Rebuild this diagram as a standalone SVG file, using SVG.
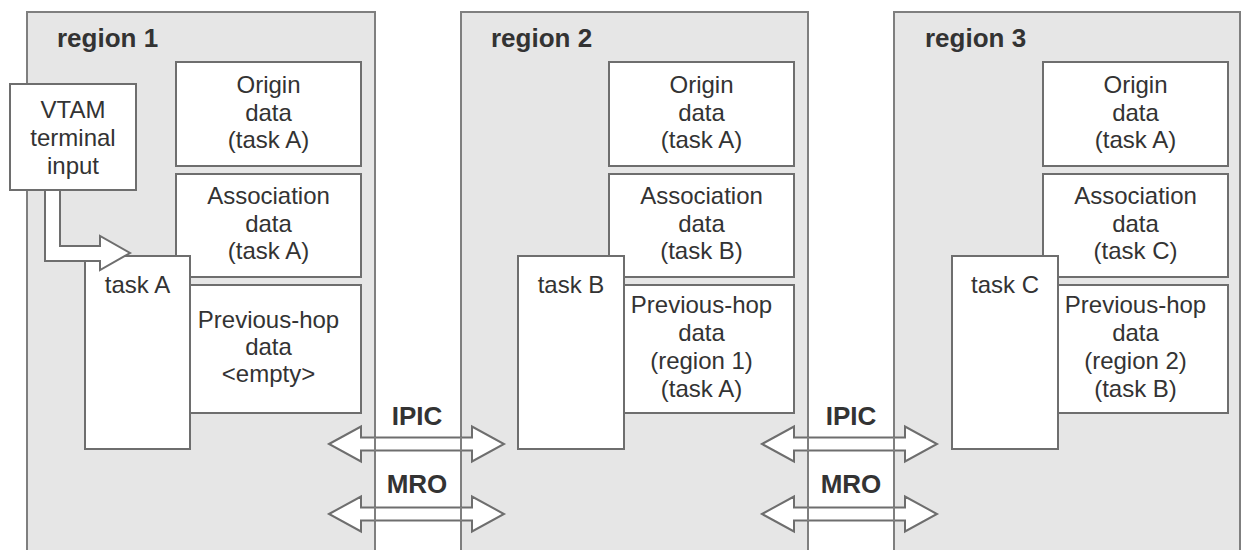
<svg xmlns="http://www.w3.org/2000/svg" width="1242" height="550" viewBox="0 0 1242 550">
<style>
.bg{fill:#ffffff}
.region{fill:#e6e6e6;stroke:#7f7f7f;stroke-width:2}
.box{fill:#ffffff;stroke:#6e6e6e;stroke-width:2}
.arrow{fill:#ffffff;stroke:#6e6e6e;stroke-width:2;stroke-linejoin:miter}
.border{stroke:#7f7f7f;stroke-width:2}
text{font-family:"Liberation Sans",Arial,Helvetica,sans-serif;fill:#333333}
.t{font-size:24px;text-anchor:middle}
.b{font-size:26px;font-weight:bold}
.bc{font-size:26px;font-weight:bold;text-anchor:middle}
</style>
<rect class="bg" x="0" y="0" width="1242" height="550"/>

<g id="region1">
<rect class="region" x="27" y="12" width="348" height="560"/>
<text class="b" x="57" y="47">region 1</text>
</g>
<g id="region2">
<rect class="region" x="461" y="12" width="347" height="560"/>
<text class="b" x="491" y="47">region 2</text>
</g>
<g id="region3">
<rect class="region" x="894" y="12" width="346" height="560"/>
<text class="b" x="925" y="47">region 3</text>
</g>

<g id="r1-origin">
<rect class="box" x="176" y="62" width="185" height="104"/>
<text class="t" x="268.5" y="93">Origin</text>
<text class="t" x="268.5" y="120.5">data</text>
<text class="t" x="268.5" y="148">(task A)</text>
</g>
<g id="r1-association">
<rect class="box" x="176" y="174" width="185" height="103"/>
<text class="t" x="268.5" y="204">Association</text>
<text class="t" x="268.5" y="231.5">data</text>
<text class="t" x="268.5" y="259">(task A)</text>
</g>
<g id="r1-previous-hop">
<rect class="box" x="176" y="285" width="185" height="128"/>
<text class="t" x="268.5" y="328">Previous-hop</text>
<text class="t" x="268.5" y="355">data</text>
<text class="t" x="268.5" y="382">&lt;empty&gt;</text>
</g>
<g id="task-a">
<rect class="box" x="85" y="256" width="105" height="193"/>
<text class="t" x="137.5" y="293">task A</text>
</g>
<g id="vtam">
<rect class="box" x="10" y="84" width="126" height="106"/>
<text class="t" x="73" y="118">VTAM</text>
<text class="t" x="73" y="146">terminal</text>
<text class="t" x="73" y="174">input</text>
</g>

<g id="r2-origin">
<rect class="box" x="609" y="62" width="185" height="104"/>
<text class="t" x="701.5" y="93">Origin</text>
<text class="t" x="701.5" y="120.5">data</text>
<text class="t" x="701.5" y="148">(task A)</text>
</g>
<g id="r2-association">
<rect class="box" x="609" y="174" width="185" height="103"/>
<text class="t" x="701.5" y="204">Association</text>
<text class="t" x="701.5" y="231.5">data</text>
<text class="t" x="701.5" y="259">(task B)</text>
</g>
<g id="r2-previous-hop">
<rect class="box" x="609" y="285" width="185" height="128"/>
<text class="t" x="701.5" y="313">Previous-hop</text>
<text class="t" x="701.5" y="341">data</text>
<text class="t" x="701.5" y="369">(region 1)</text>
<text class="t" x="701.5" y="397">(task A)</text>
</g>
<g id="task-b">
<rect class="box" x="518" y="256" width="106" height="193"/>
<text class="t" x="571" y="293">task B</text>
</g>

<g id="r3-origin">
<rect class="box" x="1043" y="62" width="185" height="104"/>
<text class="t" x="1135.5" y="93">Origin</text>
<text class="t" x="1135.5" y="120.5">data</text>
<text class="t" x="1135.5" y="148">(task A)</text>
</g>
<g id="r3-association">
<rect class="box" x="1043" y="174" width="185" height="103"/>
<text class="t" x="1135.5" y="204">Association</text>
<text class="t" x="1135.5" y="231.5">data</text>
<text class="t" x="1135.5" y="259">(task C)</text>
</g>
<g id="r3-previous-hop">
<rect class="box" x="1043" y="285" width="185" height="128"/>
<text class="t" x="1135.5" y="313">Previous-hop</text>
<text class="t" x="1135.5" y="341">data</text>
<text class="t" x="1135.5" y="369">(region 2)</text>
<text class="t" x="1135.5" y="397">(task B)</text>
</g>
<g id="task-c">
<rect class="box" x="952" y="256" width="106" height="193"/>
<text class="t" x="1005" y="293">task C</text>
</g>

<g id="connectors">
<polygon class="arrow" points="45,190 45,261 100,261 100,270 130,253 100,236 100,246 60,246 60,190"/>
<polygon class="arrow" points="329,444 361,426.5 361,437.5 472,437.5 472,426.5 504,444 472,461.5 472,450.5 361,450.5 361,461.5"/>
<polygon class="arrow" points="329,514 361,496.5 361,507.5 472,507.5 472,496.5 504,514 472,531.5 472,520.5 361,520.5 361,531.5"/>
<polygon class="arrow" points="762,444 794,426.5 794,437.5 905,437.5 905,426.5 937,444 905,461.5 905,450.5 794,450.5 794,461.5"/>
<polygon class="arrow" points="762,514 794,496.5 794,507.5 905,507.5 905,496.5 937,514 905,531.5 905,520.5 794,520.5 794,531.5"/>
<line class="border" x1="375" y1="437" x2="375" y2="451"/>
<line class="border" x1="461" y1="437" x2="461" y2="451"/>
<line class="border" x1="375" y1="507" x2="375" y2="521"/>
<line class="border" x1="461" y1="507" x2="461" y2="521"/>
<line class="border" x1="808" y1="437" x2="808" y2="451"/>
<line class="border" x1="894" y1="437" x2="894" y2="451"/>
<line class="border" x1="808" y1="507" x2="808" y2="521"/>
<line class="border" x1="894" y1="507" x2="894" y2="521"/>
<text class="bc" x="417" y="425">IPIC</text>
<text class="bc" x="417" y="493">MRO</text>
<text class="bc" x="851" y="425">IPIC</text>
<text class="bc" x="851" y="493">MRO</text>
</g>
</svg>
